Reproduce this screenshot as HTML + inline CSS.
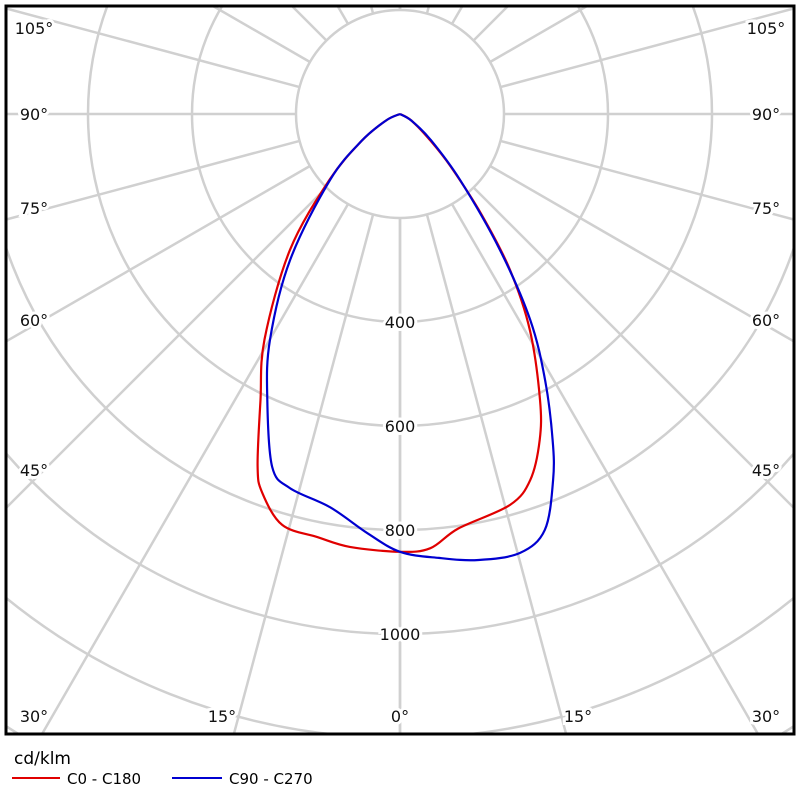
<!DOCTYPE html>
<html><head><meta charset="utf-8"><style>
html,body{margin:0;padding:0;background:#fff;overflow:hidden;width:800px;height:800px;}
svg{display:block;font-family:"DejaVu Sans","Liberation Sans",sans-serif;}
</style></head><body>
<svg id="chart" width="800" height="800" viewBox="0 0 800 800">
<defs><clipPath id="clip"><rect x="6" y="6" width="788" height="728"/></clipPath></defs>
<g id="grid" clip-path="url(#clip)"></g>
<g id="series" clip-path="url(#clip)"></g>
<g id="labels"></g>
<rect x="6" y="6" width="788" height="728" fill="none" stroke="#000" stroke-width="3"/>
<text x="14" y="764" font-size="17" fill="#000">cd/klm</text>
<line x1="12" y1="778" x2="60" y2="778" stroke="#e00000" stroke-width="2"/>
<text x="67" y="784" font-size="15">C0 - C180</text>
<line x1="172" y1="778" x2="222" y2="778" stroke="#0000d0" stroke-width="2"/>
<text x="229" y="784" font-size="15">C90 - C270</text>
</svg>
<script>
const ringValues = [200, 400, 600, 800, 1000, 1200, 1400];
const ringLabels = ["400", "600", "800", "1000"];
const gridAngles = [0, 15, 30, 45, 60, 75, 90, 105, 120, 135, 150, 165, 180];
const angleLabels = ["0°", "15°", "30°", "45°", "60°", "75°", "90°", "105°"];
const gammaC0 = [0, 4, 8, 15.7, 19.6, 23.2, 26.1, 31, 35.2, 39, 44, 49, 60, 90];
const redC0 = [842, 837, 805, 781, 747, 682, 612, 485, 367, 250, 140, 76, 25, 0];
const gammaC180 = [0, 6.6, 11, 16, 20, 22, 26, 31, 39, 47, 55, 65, 90];
const redC180 = [842, 838, 829, 822, 775, 731, 612, 506, 336, 185, 90, 30, 0];
const gammaC90 = [0, 5, 10, 15.3, 19.2, 22.7, 25.1, 28.6, 32.3, 36.3, 42.3, 50, 60, 90];
const blueC90 = [842, 857, 871, 875, 847, 763, 692, 583, 469, 325, 172, 76, 25, 0];
const gammaC270 = [0, 4.5, 10.1, 16.4, 19.9, 24.9, 29.9, 37, 46.7, 55, 65, 90];
const blueC270 = [842, 808, 768, 750, 722, 606, 502, 351, 185, 90, 30, 0];

const cx = 400, cy = 114, pxPerCd = 0.52;
const NS = "http://www.w3.org/2000/svg";
function rScale(v){ return v * pxPerCd; }
function pt(gamma, v, side){ const a = gamma*Math.PI/180, r = rScale(v); return [cx + side*r*Math.sin(a), cy + r*Math.cos(a)]; }
const grid = document.getElementById('grid');
const labels = document.getElementById('labels');
const series = document.getElementById('series');

ringValues.forEach(v=>{
  const c = document.createElementNS(NS,'circle');
  
  
  c.setAttribute('cx',cx); c.setAttribute('cy',cy); c.setAttribute('r',rScale(v));
  c.setAttribute('fill','none'); c.setAttribute('stroke','#d0d0d0'); c.setAttribute('stroke-width','2.5');
  grid.appendChild(c);
});
gridAngles.forEach(g=>{
  [-1,1].forEach(s=>{
    const p1 = pt(g,200,s), p2 = pt(g,2000,s);
    const l = document.createElementNS(NS,'line');
    
    
    l.setAttribute('x1',p1[0]); l.setAttribute('y1',p1[1]); l.setAttribute('x2',p2[0]); l.setAttribute('y2',p2[1]);
    l.setAttribute('stroke','#d0d0d0'); l.setAttribute('stroke-width','2.5');
    grid.appendChild(l);
  });
});
function addText(parent,x,y,txt,anchor,name){
  const t = document.createElementNS(NS,'text');
  
  
  t.setAttribute('x',x); t.setAttribute('y',y); t.setAttribute('font-size','16');
  t.setAttribute('text-anchor',anchor); t.setAttribute('fill','#111');
  t.setAttribute('stroke','#fff'); t.setAttribute('stroke-width','6'); t.setAttribute('paint-order','stroke');
  t.textContent = txt; parent.appendChild(t); return t;
}
ringLabels.forEach((lab,i)=>{
  const v = ringValues[i+1];
  addText(labels, cx, cy + rScale(v) + 6, lab, 'middle', 'ring-label');
});
const labelPos = [[400,722],[222,722],[34,722],[34,476],[34,326],[34,214],[34,120],[34,34]];
angleLabels.forEach((lab,i)=>{
  const p = labelPos[i];
  addText(labels, p[0], p[1], lab, 'middle', 'angle-label-left');
  if(i>0) addText(labels, 800-p[0], p[1], lab, 'middle', 'angle-label-right');
});
function smoothPath(pts){
  let d = 'M' + pts[0][0].toFixed(1) + ',' + pts[0][1].toFixed(1);
  for(let i=0;i<pts.length-1;i++){
    const p0 = pts[Math.max(0,i-1)], p1 = pts[i], p2 = pts[i+1], p3 = pts[Math.min(pts.length-1,i+2)];
    const c1 = [p1[0]+(p2[0]-p0[0])/6, p1[1]+(p2[1]-p0[1])/6];
    const c2 = [p2[0]-(p3[0]-p1[0])/6, p2[1]-(p3[1]-p1[1])/6];
    d += ' C' + c1[0].toFixed(1)+','+c1[1].toFixed(1)+' '+c2[0].toFixed(1)+','+c2[1].toFixed(1)+' '+p2[0].toFixed(1)+','+p2[1].toFixed(1);
  }
  return d;
}
function curve(gR, right, gL, left, color, name){
  const pts = [];
  for(let i=gL.length-1;i>=0;i--) pts.push(pt(gL[i], left[i], -1));
  for(let i=1;i<gR.length;i++) pts.push(pt(gR[i], right[i], 1));
  const p = document.createElementNS(NS,'path');
  
  
  p.setAttribute('d', smoothPath(pts));
  p.setAttribute('fill','none'); p.setAttribute('stroke',color); p.setAttribute('stroke-width','2.2');
  p.setAttribute('stroke-linejoin','round');
  series.appendChild(p);
}
curve(gammaC0, redC0, gammaC180, redC180, '#e00000', 'curve-c0-c180');
curve(gammaC90, blueC90, gammaC270, blueC270, '#0000d0', 'curve-c90-c270');
</script>
</body></html>
